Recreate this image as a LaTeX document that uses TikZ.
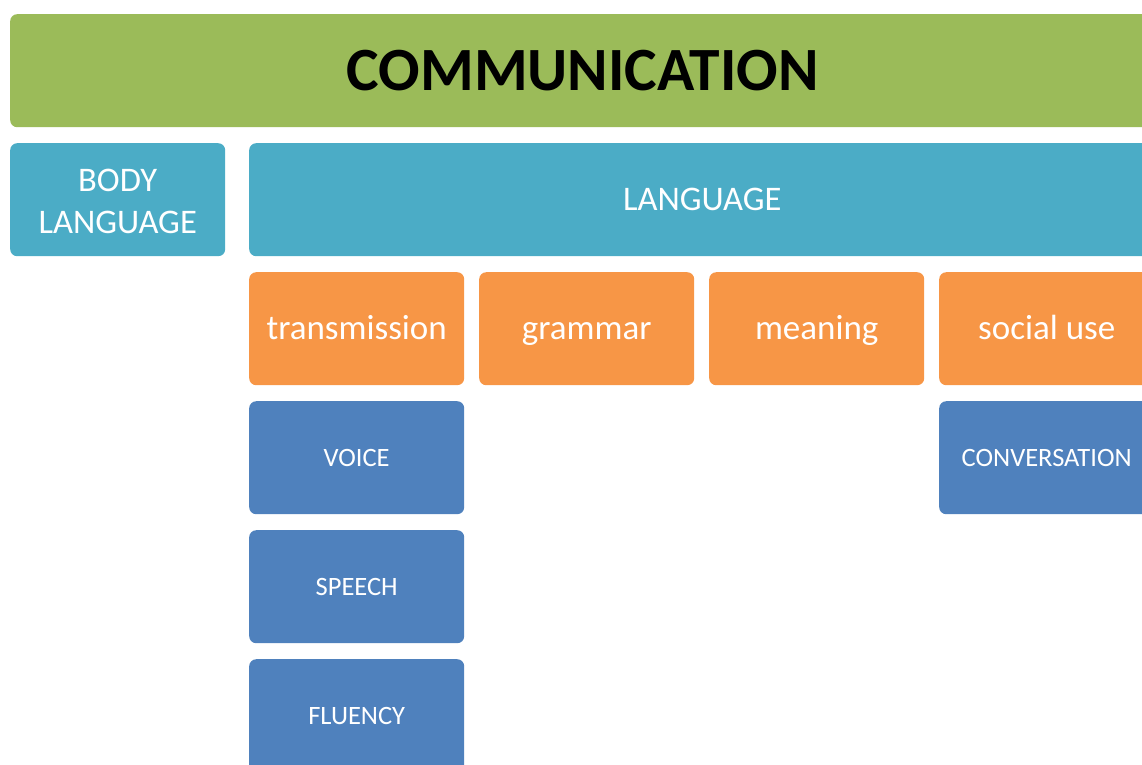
\documentclass[tikz,border=0pt]{standalone}
\usepackage{fontspec}
\setmainfont{Carlito}
\definecolor{cgreen}{HTML}{9BBB59}
\definecolor{cteal}{HTML}{4BACC6}
\definecolor{corange}{HTML}{F79646}
\definecolor{cblue}{HTML}{4F81BD}
\tikzset{
  box/.style={anchor=north west, rounded corners=7pt, inner sep=0pt, minimum height=113pt, align=center, text=white},
  titlebox/.style={box, text height=39pt, text depth=0pt, fill=cgreen, text=black, minimum width=1145pt, font=\fontsize{61.5}{72}\selectfont\bfseries},
  levelone/.style={box, fill=cteal, font=\fontsize{34.5}{42}\selectfont},
  leveltwo/.style={box, text height=22pt, text depth=0pt, fill=corange, minimum width=215pt, font=\fontsize{35}{42}\selectfont},
  levelthree/.style={box, text height=17pt, text depth=0pt, fill=cblue, minimum width=215pt, font=\fontsize{26.5}{30}\selectfont}
}
\begin{document}
\begin{tikzpicture}[x=1pt,y=-1pt]
\useasboundingbox (0,0) rectangle (1142,764);
\clip (0,0) rectangle (1142,764);
\node[titlebox] (comm) at (10,14) {COMMUNICATION};
\node[levelone, minimum width=215pt, text height=67pt, text depth=0pt] (body) at (10,143) {BODY\\LANGUAGE};
\node[levelone, text height=22pt, text depth=0pt, minimum width=906pt] (lang) at (249,143) {LANGUAGE};
\node[leveltwo] (trans) at (249,272) {transmission};
\node[leveltwo] (gram) at (479,272) {grammar};
\node[leveltwo] (mean) at (709,272) {meaning};
\node[leveltwo] (social) at (939,272) {social use};
\node[levelthree] (voice) at (249,401) {VOICE};
\node[levelthree] (speech) at (249,530) {SPEECH};
\node[levelthree] (fluency) at (249,659) {FLUENCY};
\node[levelthree] (conv) at (939,401) {CONVERSATION};
\end{tikzpicture}
\end{document}
